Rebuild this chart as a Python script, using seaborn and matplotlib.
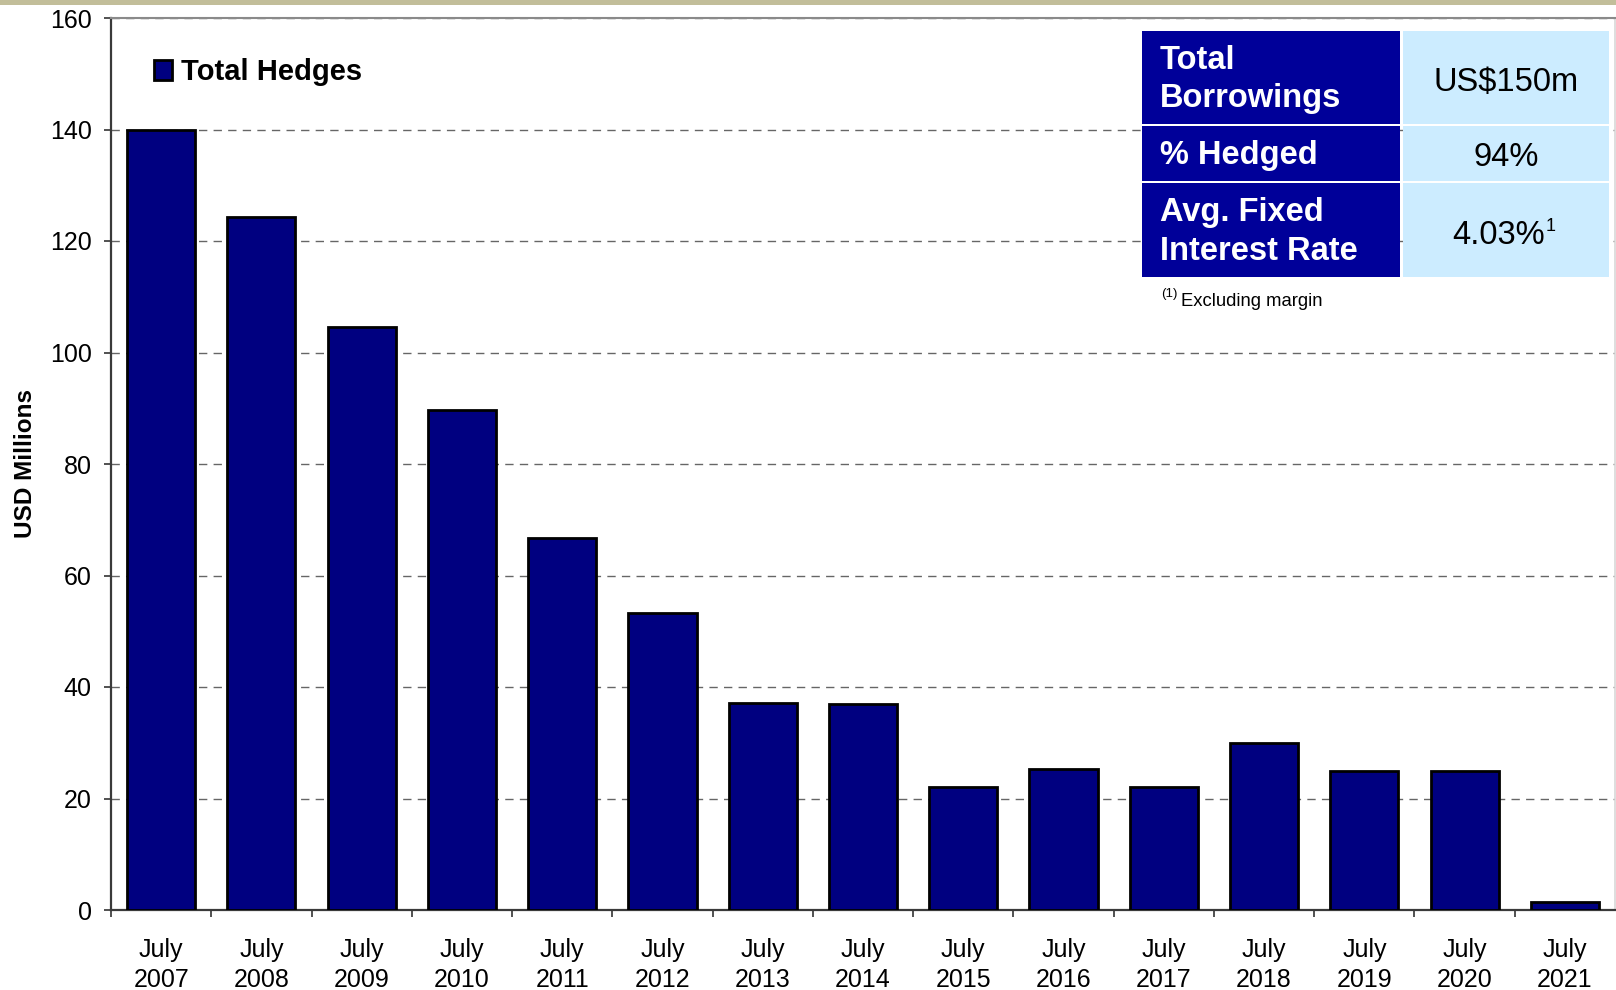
import matplotlib
matplotlib.use("Agg")
import matplotlib.pyplot as plt
from matplotlib.patches import Rectangle
import numpy as np
import pandas as pd
import seaborn as sns

# Hedge maturity profile
periods = ["July\n2007", "July\n2008", "July\n2009", "July\n2010", "July\n2011",
           "July\n2012", "July\n2013", "July\n2014", "July\n2015", "July\n2016",
           "July\n2017", "July\n2018", "July\n2019", "July\n2020", "July\n2021"]
hedges = [140, 124.3, 104.5, 89.6, 66.7, 53.3, 37.1, 36.9, 22.0, 25.3,
          22.0, 30.0, 25.0, 25.0, 1.4]
y_ticks = [0, 20, 40, 60, 80, 100, 120, 140, 160]

# Summary panel
summary_labels = ["Total\nBorrowings", "% Hedged", "Avg. Fixed\nInterest Rate"]
summary_values = ["US$150m", "94%", "4.03%"]
footnote = "Excluding margin"

sns.set_style("white")
plt.rcParams["font.family"] = ["Liberation Sans", "DejaVu Sans"]
plt.rcParams["text.color"] = "black"
plt.rcParams["axes.labelcolor"] = "black"
plt.rcParams["xtick.color"] = "black"
plt.rcParams["ytick.color"] = "black"

NAVY = "#000080"
CELL_DARK = "#000099"
CELL_LIGHT = "#CCECFF"

W, H = 1616, 990
fig = plt.figure(figsize=(W / 100, H / 100), dpi=100)
ax = fig.add_axes([111 / W, 1 - 910 / H, 1504 / W, 892 / H])

df = pd.DataFrame({"period": periods, "hedges": hedges})
sns.barplot(data=df, x="period", y="hedges", color=NAVY, saturation=1,
            edgecolor="black", linewidth=2, width=0.68, ax=ax,
            label="Total Hedges", zorder=3)

ax.set_xlim(-0.5, len(periods) - 0.5)
ax.set_ylim(0, 160)
ax.set_yticks(y_ticks)
ax.set_xlabel("")
ax.set_ylabel("USD Millions", fontsize=17.5, fontweight="bold", color="black")
ax.yaxis.set_label_coords(-0.049, 0.5)

ax.yaxis.grid(True, linestyle=(0, (6, 4.5)), color="#666666", linewidth=1)
ax.set_axisbelow(True)

ax.tick_params(axis="y", direction="out", length=5, width=1.2, color="#333333",
               labelsize=18, labelcolor="black", pad=9, left=True)
ax.tick_params(axis="x", which="major", length=0, labelsize=18,
               labelcolor="black", pad=20)
ax.set_xticks(np.arange(-0.5, len(periods) - 1, 1), minor=True)
ax.tick_params(axis="x", which="minor", direction="out", length=5, width=1.2,
               color="#333333", bottom=True)
for lbl in ax.get_xticklabels():
    lbl.set_linespacing(1.32)

for side in ("left", "bottom"):
    ax.spines[side].set_color("#3a3a3a")
    ax.spines[side].set_linewidth(1.6)
ax.spines["top"].set_color("#8a8a8a")
ax.spines["top"].set_linewidth(1.5)
ax.spines["right"].set_color("#d8d8d8")
ax.spines["right"].set_linewidth(1.2)

leg = ax.legend(loc="upper left", bbox_to_anchor=(0.021, 0.968), frameon=False,
                prop={"size": 21, "weight": "bold"}, handlelength=0.62,
                handleheight=0.66, handletextpad=0.28, borderaxespad=0)
for txt in leg.get_texts():
    txt.set_color("black")

# Decorative band along the top edge
fig.patches.append(Rectangle((0, 1 - 5 / H), 1, 5 / H, transform=fig.transFigure,
                             facecolor="#C2BE9A", edgecolor="none", zorder=0))

# Summary panel: dark label cells beside light value cells
rows = [(31, 124), (126, 181), (183, 277)]
left_x0, left_x1 = 1142, 1400
right_x0, right_x1 = 1403, 1609


def fx(px):
    return px / W


def fy(py):
    return 1 - py / H


for (top, bottom), label in zip(rows, summary_labels):
    fig.patches.append(Rectangle((fx(left_x0), fy(bottom)), fx(left_x1 - left_x0),
                                 (bottom - top) / H, transform=fig.transFigure,
                                 facecolor=CELL_DARK, edgecolor="none", zorder=5))
    fig.patches.append(Rectangle((fx(right_x0), fy(bottom)), fx(right_x1 - right_x0),
                                 (bottom - top) / H, transform=fig.transFigure,
                                 facecolor=CELL_LIGHT, edgecolor="none", zorder=5))
    mid = (top + bottom) / 2 + 2
    fig.text(fx(1160), fy(mid), label, color="white", fontsize=23.5,
             fontweight="bold", ha="left", va="center", linespacing=1.3, zorder=6)

# Value column; the rate carries a footnote marker
fig.text(fx(1506), fy(82), summary_values[0], fontsize=23.5, ha="center",
         va="center", zorder=6)
fig.text(fx(1506), fy(158), summary_values[1], fontsize=23.5, ha="center",
         va="center", zorder=6)
fig.text(fx(1545), fy(235), summary_values[2], fontsize=23.5, ha="right",
         va="center", zorder=6)
fig.text(fx(1546), fy(231), "1", fontsize=13, ha="left", va="baseline", zorder=6)

fig.text(fx(1161), fy(297), "(1)", fontsize=9.5, ha="left", va="baseline", zorder=6)
fig.text(fx(1181), fy(306), footnote, fontsize=13.3, ha="left", va="baseline", zorder=6)

fig.savefig("out.png", dpi=100)
